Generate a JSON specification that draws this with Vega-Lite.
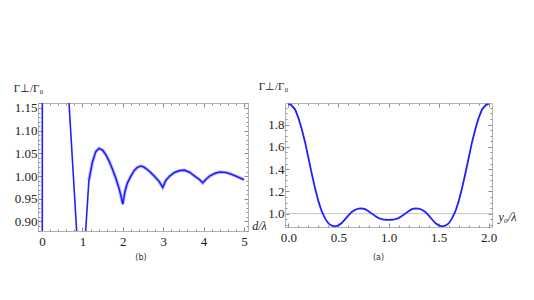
{
  "$schema": "https://vega.github.io/schema/vega-lite/v6.json",
  "padding": {"left": 12, "top": 79, "right": 5, "bottom": 5},
  "background": "white",
  "spacing": 37,
  "bounds": "flush",
  "config": {
    "view": {"stroke": "#b4b4b4", "strokeWidth": 1},
    "axis": {
      "domain": false, "grid": false, "labelFont": "Liberation Serif", "labelFontSize": 13,
      "labelColor": "#222", "tickColor": "#8c8c8c", "tickWidth": 1, "labelFlush": false,
      "labelOverlap": false, "titleFont": "Liberation Serif", "titleFontSize": 11,
      "titleFontWeight": "normal", "titleColor": "#222"
    },
    "title": {"font": "DejaVu Sans", "fontSize": 8, "fontWeight": "normal", "color": "#333"}
  },
  "datasets": {
    "left": [
      {"x": 0.0, "y": 0.5}, {"x": 0.005, "y": 0.6}, {"x": 0.009, "y": 1.6}, {"x": 0.3, "y": 1.9},
      {"x": 0.55, "y": 1.35}, {"x": 0.668, "y": 1.161}, {"x": 0.857, "y": 0.879}, {"x": 1.0, "y": 0.7},
      {"x": 1.08, "y": 0.879}, {"x": 1.16, "y": 0.99}, {"x": 1.245, "y": 1.03}, {"x": 1.33, "y": 1.054},
      {"x": 1.41, "y": 1.061}, {"x": 1.5, "y": 1.057}, {"x": 1.58, "y": 1.047}, {"x": 1.66, "y": 1.033},
      {"x": 1.74, "y": 1.016}, {"x": 1.82, "y": 0.997}, {"x": 1.9, "y": 0.975}, {"x": 1.945, "y": 0.96},
      {"x": 2.0, "y": 0.938}, {"x": 2.05, "y": 0.965}, {"x": 2.11, "y": 0.984}, {"x": 2.2, "y": 1.0},
      {"x": 2.28, "y": 1.012}, {"x": 2.36, "y": 1.019}, {"x": 2.44, "y": 1.022}, {"x": 2.52, "y": 1.02},
      {"x": 2.6, "y": 1.015}, {"x": 2.7, "y": 1.007}, {"x": 2.8, "y": 0.998}, {"x": 2.9, "y": 0.988},
      {"x": 2.99, "y": 0.975}, {"x": 3.06, "y": 0.99}, {"x": 3.16, "y": 1.0}, {"x": 3.28, "y": 1.008},
      {"x": 3.4, "y": 1.012}, {"x": 3.53, "y": 1.013}, {"x": 3.66, "y": 1.008}, {"x": 3.78, "y": 1.0},
      {"x": 3.9, "y": 0.992}, {"x": 3.98, "y": 0.985}, {"x": 4.06, "y": 0.993}, {"x": 4.15, "y": 1.0},
      {"x": 4.28, "y": 1.006}, {"x": 4.4, "y": 1.009}, {"x": 4.55, "y": 1.008}, {"x": 4.69, "y": 1.004},
      {"x": 4.85, "y": 0.998}, {"x": 5.0, "y": 0.992}
    ],
    "right": [
      {"x": 0.0, "y": 1.985}, {"x": 0.03, "y": 1.975}, {"x": 0.067, "y": 1.935}, {"x": 0.1, "y": 1.86},
      {"x": 0.133, "y": 1.76}, {"x": 0.167, "y": 1.64}, {"x": 0.2, "y": 1.5}, {"x": 0.233, "y": 1.36},
      {"x": 0.267, "y": 1.225}, {"x": 0.3, "y": 1.11}, {"x": 0.333, "y": 1.02}, {"x": 0.367, "y": 0.955},
      {"x": 0.4, "y": 0.912}, {"x": 0.433, "y": 0.892}, {"x": 0.467, "y": 0.886}, {"x": 0.5, "y": 0.895},
      {"x": 0.533, "y": 0.915}, {"x": 0.567, "y": 0.95}, {"x": 0.6, "y": 0.985}, {"x": 0.633, "y": 1.015},
      {"x": 0.667, "y": 1.035}, {"x": 0.7, "y": 1.045}, {"x": 0.733, "y": 1.048}, {"x": 0.767, "y": 1.04},
      {"x": 0.8, "y": 1.022}, {"x": 0.833, "y": 1.0}, {"x": 0.867, "y": 0.978}, {"x": 0.9, "y": 0.96},
      {"x": 0.933, "y": 0.95}, {"x": 0.967, "y": 0.945}, {"x": 1.0, "y": 0.944},
      {"x": 1.033, "y": 0.945}, {"x": 1.067, "y": 0.95}, {"x": 1.1, "y": 0.96}, {"x": 1.133, "y": 0.978},
      {"x": 1.167, "y": 1.0}, {"x": 1.2, "y": 1.022}, {"x": 1.233, "y": 1.04}, {"x": 1.267, "y": 1.048},
      {"x": 1.3, "y": 1.045}, {"x": 1.333, "y": 1.035}, {"x": 1.367, "y": 1.015}, {"x": 1.4, "y": 0.985},
      {"x": 1.433, "y": 0.95}, {"x": 1.467, "y": 0.915}, {"x": 1.5, "y": 0.895}, {"x": 1.533, "y": 0.886},
      {"x": 1.567, "y": 0.892}, {"x": 1.6, "y": 0.912}, {"x": 1.633, "y": 0.955}, {"x": 1.667, "y": 1.02},
      {"x": 1.7, "y": 1.11}, {"x": 1.733, "y": 1.225}, {"x": 1.767, "y": 1.36}, {"x": 1.8, "y": 1.5},
      {"x": 1.833, "y": 1.64}, {"x": 1.867, "y": 1.76}, {"x": 1.9, "y": 1.86}, {"x": 1.933, "y": 1.935},
      {"x": 1.97, "y": 1.975}, {"x": 2.0, "y": 1.985}
    ],
    "ref": [{"y": 1.0}]
  },
  "hconcat": [
    {
      "width": 210, "height": 128,
      "title": {"text": "(b)", "orient": "bottom", "anchor": "middle", "offset": 4, "dx": -2},
      "data": {"name": "left"},
      "resolve": {"axis": {"x": "independent", "y": "independent"}},
      "layer": [
        {
          "transform": [{"filter": "datum.x >= 1.1"}],
          "mark": {"type": "line", "color": "#2a2aff", "strokeWidth": 3.5, "opacity": 0.3, "clip": true},
          "encoding": {
            "x": {"field": "x", "type": "quantitative", "scale": {"domain": [-0.1, 5.1], "nice": false, "zero": false},
              "axis": {"orient": "top", "labels": false, "title": null,
                "values": [0,0.2,0.4,0.6,0.8,1,1.2,1.4,1.6,1.8,2,2.2,2.4,2.6,2.8,3,3.2,3.4,3.6,3.8,4,4.2,4.4,4.6,4.8,5],
                "tickSize": {"condition": {"test": "abs(datum.value - round(datum.value)) < 1e-6", "value": -4}, "value": -2}}},
            "y": {"field": "y", "type": "quantitative", "scale": {"domain": [0.879, 1.161], "nice": false, "zero": false},
              "axis": {"orient": "right", "labels": false, "title": null,
                "values": [0.88,0.89,0.9,0.91,0.92,0.93,0.94,0.95,0.96,0.97,0.98,0.99,1,1.01,1.02,1.03,1.04,1.05,1.06,1.07,1.08,1.09,1.1,1.11,1.12,1.13,1.14,1.15,1.16],
                "tickSize": {"condition": {"test": "abs(datum.value*20 - round(datum.value*20)) < 1e-6", "value": -4}, "value": -2}}}
          }
        },
        {
          "mark": {"type": "line", "color": "#2020ff", "strokeWidth": 1.6, "clip": true},
          "encoding": {
            "x": {"field": "x", "type": "quantitative", "scale": {"domain": [-0.1, 5.1], "nice": false, "zero": false},
              "axis": {"orient": "bottom", "title": "d/λ", "titleFontStyle": "italic", "titleAngle": 0, "titleX": 221, "titleY": -6,
                "titleAlign": "center", "titleBaseline": "middle", "titleFontSize": 12, "labelPadding": 8,
                "values": [0,0.2,0.4,0.6,0.8,1,1.2,1.4,1.6,1.8,2,2.2,2.4,2.6,2.8,3,3.2,3.4,3.6,3.8,4,4.2,4.4,4.6,4.8,5],
                "labelExpr": "abs(datum.value - round(datum.value)) < 1e-6 ? format(datum.value, 'd') : ''",
                "tickSize": {"condition": {"test": "abs(datum.value - round(datum.value)) < 1e-6", "value": -4}, "value": -2}}},
            "y": {"field": "y", "type": "quantitative", "scale": {"domain": [0.879, 1.161], "nice": false, "zero": false},
              "axis": {"orient": "left", "title": "Γ⊥/Γ₀", "titleAngle": 0, "titleX": -10, "titleY": -15,
                "titleAlign": "center", "titleBaseline": "middle", "labelPadding": 5,
                "values": [0.88,0.89,0.9,0.91,0.92,0.93,0.94,0.95,0.96,0.97,0.98,0.99,1,1.01,1.02,1.03,1.04,1.05,1.06,1.07,1.08,1.09,1.1,1.11,1.12,1.13,1.14,1.15,1.16],
                "labelExpr": "abs(datum.value*20 - round(datum.value*20)) < 1e-6 ? format(datum.value, '.2f') : ''",
                "tickSize": {"condition": {"test": "abs(datum.value*20 - round(datum.value*20)) < 1e-6", "value": -4}, "value": -2}}}
          }
        }
      ]
    },
    {
      "width": 207, "height": 124,
      "title": {"text": "(a)", "orient": "bottom", "anchor": "middle", "offset": 8, "dx": -10},
      "resolve": {"axis": {"x": "independent", "y": "independent"}},
      "layer": [
        {
          "data": {"name": "ref"},
          "mark": {"type": "rule", "color": "#c4c4c4", "strokeWidth": 1},
          "encoding": {
            "y": {"field": "y", "type": "quantitative", "scale": {"domain": [0.88, 1.994], "nice": false, "zero": false},
              "axis": {"orient": "right", "labels": false, "title": null,
                "values": [0.9,0.95,1,1.05,1.1,1.15,1.2,1.25,1.3,1.35,1.4,1.45,1.5,1.55,1.6,1.65,1.7,1.75,1.8,1.85,1.9,1.95],
                "tickSize": {"condition": {"test": "abs(datum.value*5 - round(datum.value*5)) < 1e-6", "value": -4}, "value": -2}}}
          }
        },
        {
          "data": {"name": "right"},
          "mark": {"type": "line", "color": "#2020ff", "strokeWidth": 1.8, "clip": true},
          "encoding": {
            "x": {"field": "x", "type": "quantitative", "scale": {"domain": [-0.034, 2.033], "nice": false, "zero": false},
              "axis": {"orient": "bottom", "title": "y₀/λ", "titleFontStyle": "italic", "titleAngle": 0, "titleX": 222, "titleY": -11,
                "titleAlign": "center", "titleBaseline": "middle", "titleFontSize": 12, "labelPadding": 8,
                "values": [0,0.1,0.2,0.3,0.4,0.5,0.6,0.7,0.8,0.9,1,1.1,1.2,1.3,1.4,1.5,1.6,1.7,1.8,1.9,2],
                "labelExpr": "abs(datum.value*2 - round(datum.value*2)) < 1e-6 ? format(datum.value, '.1f') : ''",
                "tickSize": {"condition": {"test": "abs(datum.value*2 - round(datum.value*2)) < 1e-6", "value": -4}, "value": -2}}},
            "y": {"field": "y", "type": "quantitative", "scale": {"domain": [0.88, 1.994], "nice": false, "zero": false},
              "axis": {"orient": "left", "title": "Γ⊥/Γ₀", "titleAngle": 0, "titleX": -12, "titleY": -17,
                "titleAlign": "center", "titleBaseline": "middle", "labelPadding": 5,
                "values": [0.9,0.95,1,1.05,1.1,1.15,1.2,1.25,1.3,1.35,1.4,1.45,1.5,1.55,1.6,1.65,1.7,1.75,1.8,1.85,1.9,1.95],
                "labelExpr": "abs(datum.value*5 - round(datum.value*5)) < 1e-6 ? format(datum.value, '.1f') : ''",
                "tickSize": {"condition": {"test": "abs(datum.value*5 - round(datum.value*5)) < 1e-6", "value": -4}, "value": -2}}}
          }
        },
        {
          "data": {"name": "right"},
          "mark": {"type": "line", "opacity": 0},
          "encoding": {
            "x": {"field": "x", "type": "quantitative", "scale": {"domain": [-0.034, 2.033], "nice": false, "zero": false},
              "axis": {"orient": "top", "labels": false, "title": null,
                "values": [0,0.1,0.2,0.3,0.4,0.5,0.6,0.7,0.8,0.9,1,1.1,1.2,1.3,1.4,1.5,1.6,1.7,1.8,1.9,2],
                "tickSize": {"condition": {"test": "abs(datum.value*2 - round(datum.value*2)) < 1e-6", "value": -4}, "value": -2}}},
            "y": {"field": "y", "type": "quantitative", "axis": null}
          }
        }
      ]
    }
  ]
}
